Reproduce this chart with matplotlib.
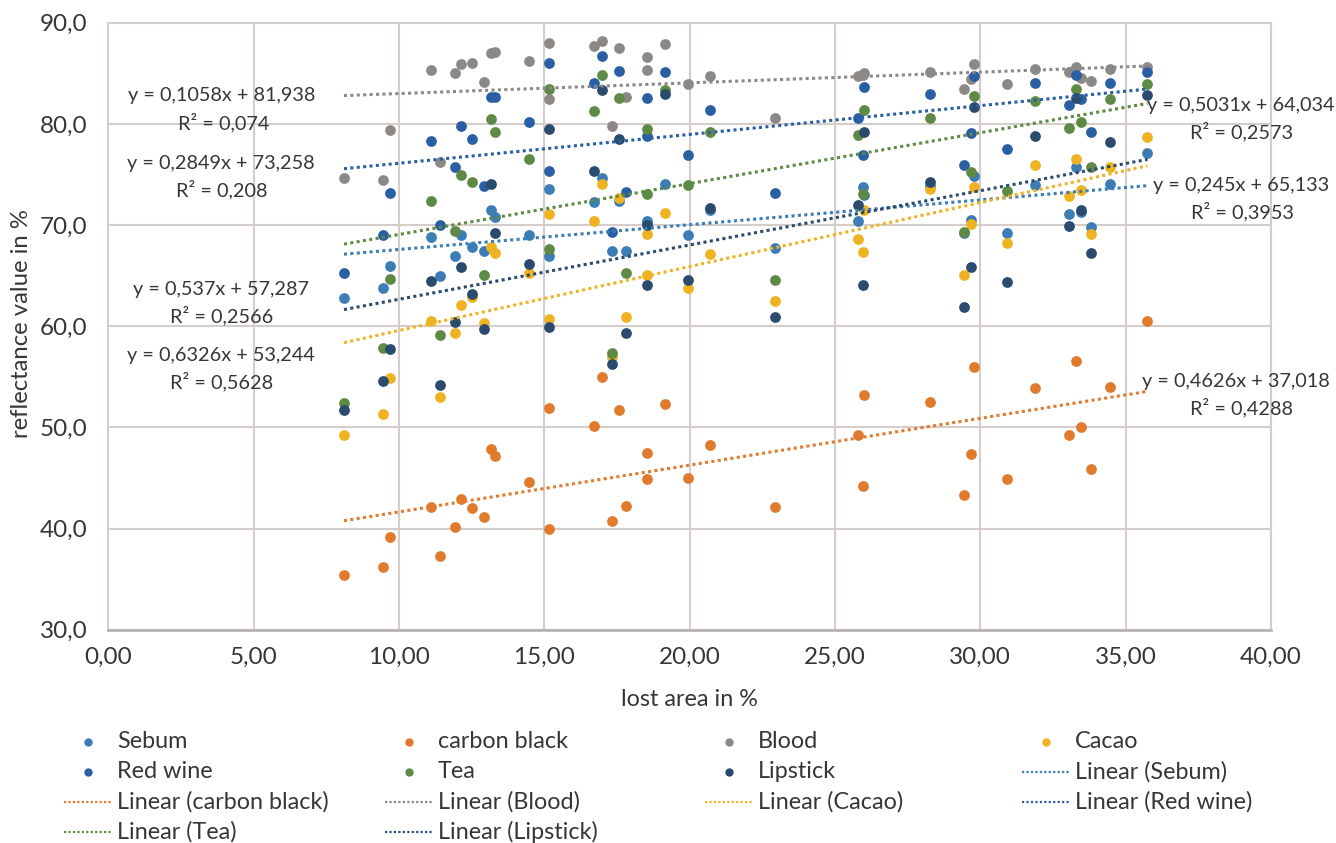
import matplotlib
matplotlib.use("Agg")
import matplotlib.pyplot as plt
from matplotlib.lines import Line2D
import numpy as np

plt.rcParams['font.family'] = ['Lato', 'DejaVu Sans']

# ---------------- data ----------------
lost_area = [8.11, 9.44, 9.71, 11.09, 11.43, 11.94, 12.13, 12.51, 12.93, 13.16,
             13.32, 14.48, 15.16, 15.16, 16.72, 17.00, 17.34, 17.56, 17.81, 18.55,
             18.55, 19.17, 19.95, 20.69, 22.93, 25.81, 25.96, 26.00, 28.27, 29.45,
             29.69, 29.78, 30.92, 31.87, 33.04, 33.29, 33.48, 33.81, 34.47, 35.75]

sebum = [62.8, 63.8, 66.0, 68.8, 65.0, 66.9, 69.0, 67.8, 67.4, 71.5,
         70.8, 69.0, 73.6, 66.9, 72.3, 74.6, 67.4, 72.4, 67.4, 70.4,
         70.2, 74.1, 69.0, 71.5, 67.7, 70.4, 73.8, 73.0, 73.9, 69.2,
         70.5, 74.85, 69.2, 74.0, 71.1, 75.7, 71.3, 69.8, 74.1, 77.1]
carbon_black = [35.4, 36.2, 39.2, 42.1, 37.3, 40.2, 42.9, 42.0, 41.1, 47.9,
                47.2, 44.6, 51.9, 40.0, 50.1, 55.0, 40.7, 51.7, 42.2, 47.5,
                44.9, 52.3, 45.0, 48.3, 42.1, 49.2, 44.2, 53.2, 52.5, 43.3,
                47.4, 56.0, 44.9, 53.9, 49.2, 56.6, 50.0, 45.9, 54.0, 60.5]
blood = [74.6, 74.5, 79.4, 85.3, 76.2, 85.0, 85.9, 86.0, 84.1, 87.0,
         87.1, 86.2, 88.0, 82.5, 87.7, 88.2, 79.8, 87.5, 82.7, 86.6,
         85.3, 87.9, 83.9, 84.7, 80.6, 84.7, 84.8, 85.0, 85.1, 83.4,
         84.4, 85.9, 83.9, 85.4, 85.1, 85.6, 84.5, 84.2, 85.4, 85.6]
cacao = [49.2, 51.3, 54.9, 60.5, 53.0, 59.3, 62.1, 62.9, 60.3, 67.8,
         67.2, 65.3, 71.1, 60.7, 70.4, 74.1, 57.0, 72.7, 60.9, 69.1,
         65.1, 71.2, 63.8, 67.1, 62.5, 68.6, 67.3, 71.5, 73.6, 65.1,
         70.1, 73.8, 68.2, 75.9, 72.9, 76.5, 73.5, 69.1, 75.7, 78.7]
red_wine = [65.3, 69.0, 73.2, 78.3, 70.0, 75.7, 79.8, 78.5, 73.9, 82.7,
            82.7, 80.2, 86.05, 75.3, 84.0, 86.7, 69.3, 85.2, 73.3, 82.6,
            78.8, 85.1, 76.9, 81.4, 73.2, 80.6, 76.9, 83.6, 83.0, 75.9,
            79.1, 84.7, 77.5, 84.0, 81.9, 84.8, 82.5, 79.2, 84.0, 85.1]
tea = [52.4, 57.8, 64.7, 72.4, 59.1, 69.4, 74.9, 74.3, 65.1, 80.45,
       79.2, 76.5, 83.45, 67.6, 81.3, 84.8, 57.4, 82.6, 65.3, 79.5,
       73.1, 83.3, 74.0, 79.2, 64.6, 78.9, 73.1, 81.4, 80.6, 69.3,
       75.2, 82.75, 73.4, 82.3, 79.6, 83.4, 80.2, 75.7, 82.5, 83.9]
lipstick = [51.7, 54.6, 57.7, 64.5, 54.2, 60.4, 65.9, 63.2, 59.7, 74.1,
            69.2, 66.1, 79.5, 59.95, 75.3, 83.3, 56.3, 78.5, 59.3, 70.0,
            64.1, 83.0, 64.6, 71.7, 60.9, 72.0, 64.1, 79.2, 74.3, 61.9,
            65.9, 81.7, 64.4, 78.8, 69.9, 82.6, 71.5, 67.2, 78.2, 82.9]

series_names = ["Sebum", "carbon black", "Blood", "Cacao", "Red wine", "Tea", "Lipstick"]
series_values = [sebum, carbon_black, blood, cacao, red_wine, tea, lipstick]
series_colors = ["#3B7DB4", "#E07A2D", "#8C8886", "#EFB322", "#2A5FA3", "#5E8A45", "#2A4A6E"]

# trendline coefficients as displayed in the chart
trend_slopes = [0.245, 0.4626, 0.1058, 0.6326, 0.2849, 0.5031, 0.537]
trend_intercepts = [65.133, 37.018, 81.938, 53.244, 73.258, 64.034, 57.287]

eq_texts = ["y = 0,1058x + 81,938", "y = 0,2849x + 73,258", "y = 0,537x + 57,287",
            "y = 0,6326x + 53,244", "y = 0,5031x + 64,034", "y = 0,245x + 65,133",
            "y = 0,4626x + 37,018"]
r2_texts = ["R² = 0,074", "R² = 0,208", "R² = 0,2566", "R² = 0,5628",
            "R² = 0,2573", "R² = 0,3953", "R² = 0,4288"]

x_ticks = [0, 5, 10, 15, 20, 25, 30, 35, 40]
x_ticklabels = ["0,00", "5,00", "10,00", "15,00", "20,00", "25,00", "30,00", "35,00", "40,00"]
y_ticks = [30, 40, 50, 60, 70, 80, 90]
y_ticklabels = ["30,0", "40,0", "50,0", "60,0", "70,0", "80,0", "90,0"]

# ---------------- layout ----------------
W, H = 1336, 843
fig = plt.figure(figsize=(W / 100, H / 100), dpi=100)
L, R, T, B = 108.2, 1271.0, 22.7, 629.7
ax = fig.add_axes([L / W, 1 - B / H, (R - L) / W, (B - T) / H])

TXT = "#363636"
GRID = "#D4CDC9"

for name, ys, col in zip(series_names, series_values, series_colors):
    ax.scatter(lost_area, ys, s=60, color=col, linewidths=0, zorder=3, label=name)

xmin, xmax = min(lost_area), max(lost_area)
xs = np.array([xmin, xmax])
for name, m, b, col in zip(series_names, trend_slopes, trend_intercepts, series_colors):
    ax.plot(xs, m * xs + b, color=col, lw=2.2, ls=(0, (1, 1.1)), zorder=4)

ax.set_xlim(0, 40)
ax.set_ylim(30, 90)
ax.set_xticks(x_ticks)
ax.set_xticklabels(x_ticklabels)
ax.set_yticks(y_ticks)
ax.set_yticklabels(y_ticklabels)
ax.tick_params(length=0, labelsize=17.5, colors=TXT)
ax.tick_params(axis='x', pad=12)
ax.tick_params(axis='y', pad=15)
ax.grid(True, color=GRID, lw=1.5, zorder=0)
ax.set_axisbelow(True)
for s in ["left", "top", "right"]:
    ax.spines[s].set_color(GRID)
    ax.spines[s].set_linewidth(1.5)
ax.spines["bottom"].set_color("#B5B0AE")
ax.spines["bottom"].set_linewidth(1.9)

# axis titles
fig.text(689.6 / W, 1 - 700 / H, "lost area in %", ha='center', va='center',
         fontsize=16.8, color=TXT)
fig.text(22 / W, 1 - 324 / H, "reflectance value in %", ha='center', va='center',
         rotation=90, fontsize=17.2, color=TXT)

# trendline labels (pixel centres of each pair of lines)
label_pos = [(222, 95, 224, 123), (221, 163, 222, 190), (221, 290, 222, 316),
             (221, 355, 222, 382), (1241, 105, 1242, 131.5), (1241, 185, 1242, 211.5),
             (1236, 381.5, 1242, 408)]
for (ex, ey, rx, ry), et, rt in zip(label_pos, eq_texts, r2_texts):
    fig.text(ex / W, 1 - ey / H, et, ha='center', va='center', fontsize=14.3, color=TXT)
    fig.text(rx / W, 1 - ry / H, rt, ha='center', va='center', fontsize=14.3, color=TXT)

# legend (Excel-like grid: 4 columns, row-major)
entries = [("m", i) for i in range(7)] + [("l", i) for i in range(7)]
col_x = [64, 385, 705, 1022]
row_y = [741.5, 771.5, 801.5, 831.5]
hlen = 48
for k, (kind, i) in enumerate(entries):
    r, c = divmod(k, 4)
    x0, y0 = col_x[c], row_y[r]
    if kind == "m":
        fig.add_artist(Line2D([(x0 + hlen / 2) / W], [1 - y0 / H], marker='o', ms=6,
                              color=series_colors[i], mec='none', ls='none'))
        label = series_names[i]
    else:
        fig.add_artist(Line2D([x0 / W, (x0 + hlen) / W], [1 - y0 / H, 1 - y0 / H],
                              color=series_colors[i], lw=1.6, ls=(0, (1, 1))))
        label = "Linear (" + series_names[i] + ")"
    fig.text((x0 + hlen + 5) / W, 1 - y0 / H, label, ha='left', va='center',
             fontsize=16.8, color=TXT)

fig.savefig("out.png", dpi=100)
